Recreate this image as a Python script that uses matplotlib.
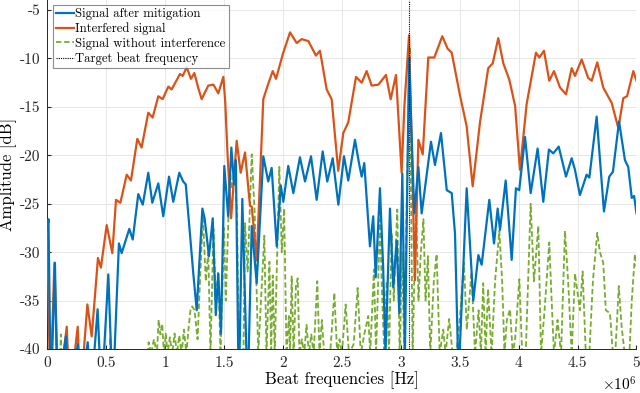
import numpy as np
import matplotlib
matplotlib.use("Agg")
import matplotlib.pyplot as plt

plt.rcParams['font.family'] = 'serif'
plt.rcParams['font.serif'] = ['cmr10', 'DejaVu Serif']
plt.rcParams['mathtext.fontset'] = 'cm'
plt.rcParams['axes.formatter.use_mathtext'] = True

# beat frequency in MHz, amplitude in dB
f_interf = [0.0, 0.025, 0.06, 0.095, 0.165, 0.19, 0.258, 0.28, 0.34, 0.377, 0.43, 0.455,
            0.504, 0.552, 0.583, 0.62, 0.674, 0.71, 0.764, 0.80, 0.857, 0.894, 0.942, 0.979,
            1.027, 1.055, 1.126, 1.149, 1.183, 1.219, 1.248, 1.28, 1.31, 1.366, 1.41, 1.451,
            1.494, 1.51, 1.53, 1.545, 1.56, 1.607, 1.641, 1.678, 1.72, 1.735, 1.777, 1.833,
            1.87, 1.913, 1.941, 2.0, 2.06, 2.116, 2.159, 2.215, 2.28, 2.314, 2.371, 2.413,
            2.469, 2.512, 2.554, 2.62, 2.668, 2.71, 2.753, 2.81, 2.874, 2.914, 2.959, 3.007,
            3.03, 3.07, 3.12, 3.149, 3.186, 3.233, 3.284, 3.352, 3.398, 3.432, 3.502, 3.559,
            3.61, 3.672, 3.742, 3.78, 3.827, 3.87, 3.921, 3.97, 4.011, 4.068, 4.147, 4.175,
            4.215, 4.26, 4.3, 4.351, 4.402, 4.45, 4.478, 4.535, 4.59, 4.62, 4.667, 4.718,
            4.79, 4.846, 4.888, 4.92, 4.973, 5.0]
a_interf = [-27.9, -45, -31.1, -45, -37.7, -45, -37.7, -45, -35.4, -38.7, -30.6, -31.6,
            -27.2, -30.1, -24.6, -24.9, -22.0, -22.6, -18.3, -19.2, -15.6, -16.1, -13.9, -14.2,
            -12.9, -13.2, -11.6, -11.8, -10.9, -12.1, -11.5, -13.0, -14.2, -12.8, -12.7, -13.6,
            -11.9, -14.5, -20.0, -23.2, -26.5, -18.5, -21.8, -19.7, -25.2, -25.3, -30.8, -14.2,
            -12.8, -11.3, -12.1, -9.5, -7.3, -8.4, -8.0, -8.2, -9.7, -9.2, -13.2, -14.2,
            -21.6, -17.7, -16.6, -11.9, -12.5, -11.3, -12.8, -12.7, -11.7, -14.2, -11.7, -21.8,
            -15.0, -7.6, -32.9, -18.4, -19.9, -9.9, -9.9, -7.7, -9.0, -9.4, -13.8, -17.0,
            -23.2, -16.6, -11.0, -10.5, -7.9, -10.5, -12.2, -14.9, -21.5, -14.7, -9.4, -9.9,
            -9.2, -12.3, -11.3, -13.0, -13.7, -11.0, -11.8, -10.1, -12.0, -12.3, -10.4, -13.0,
            -14.6, -17.2, -14.1, -13.9, -11.3, -12.3]

f_mitig = [0.0, 0.01, 0.03, 0.065, 0.085, 0.158, 0.18, 0.26, 0.28, 0.343, 0.37, 0.427,
           0.46, 0.518, 0.555, 0.608, 0.631, 0.696, 0.725, 0.772, 0.81, 0.857, 0.891, 0.942,
           0.984, 1.033, 1.069, 1.12, 1.153, 1.175, 1.21, 1.239, 1.268, 1.316, 1.335, 1.372,
           1.404, 1.43, 1.451, 1.474, 1.502, 1.535, 1.562, 1.585, 1.60, 1.625, 1.655, 1.70,
           1.735, 1.777, 1.833, 1.875, 1.904, 1.947, 1.981, 2.003, 2.045, 2.088, 2.144, 2.187,
           2.238, 2.286, 2.337, 2.376, 2.422, 2.47, 2.518, 2.554, 2.611, 2.645, 2.668, 2.69,
           2.738, 2.766, 2.787, 2.823, 2.85, 2.87, 2.908, 2.936, 2.965, 2.987, 3.013, 3.035,
           3.07, 3.114, 3.149, 3.177, 3.256, 3.29, 3.341, 3.39, 3.432, 3.46, 3.49, 3.559,
           3.615, 3.658, 3.686, 3.751, 3.791, 3.822, 3.842, 3.89, 3.941, 3.977, 4.005, 4.054,
           4.102, 4.161, 4.209, 4.257, 4.294, 4.34, 4.402, 4.45, 4.478, 4.52, 4.577, 4.60,
           4.662, 4.724, 4.769, 4.80, 4.852, 4.902, 4.93, 4.96, 4.98, 5.0]
a_mitig = [-27.7, -26.6, -45, -31.1, -45, -38.7, -45, -39.5, -45, -39.3, -45, -35.9,
           -45, -32.3, -45, -29.1, -30.1, -27.6, -28.7, -24.0, -25.1, -21.8, -24.9, -22.9,
           -26.3, -22.2, -24.8, -21.8, -22.7, -23.0, -28.0, -32.2, -36.0, -25.5, -26.5, -30.4,
           -26.5, -36.5, -32.2, -38.4, -21.1, -26.3, -19.2, -23.0, -20.5, -45, -24.5, -45,
           -27.3, -33.2, -20.1, -22.7, -21.3, -29.4, -23.1, -24.8, -21.1, -23.9, -20.2, -22.7,
           -20.1, -24.6, -19.6, -22.7, -20.3, -25.1, -20.1, -22.6, -18.4, -20.8, -22.2, -20.8,
           -29.4, -26.3, -32.6, -23.4, -31.5, -40.5, -25.5, -33.6, -28.8, -36.3, -21.9, -40.5,
           -10.0, -26.0, -21.2, -26.0, -18.6, -21.0, -17.7, -23.6, -23.9, -28.1, -43, -23.4,
           -35.0, -30.3, -31.3, -24.6, -29.1, -25.5, -27.7, -22.6, -30.8, -23.4, -23.6, -18.1,
           -23.9, -19.3, -24.8, -19.4, -19.8, -19.1, -22.2, -20.3, -21.5, -24.1, -22.0, -22.3,
           -16.0, -25.8, -22.2, -21.7, -16.5, -20.5, -21.2, -24.4, -24.2, -26.0]

f_clean = [0.0, 0.10, 0.115, 0.13, 0.52, 0.535, 0.55, 0.83, 0.86, 0.88, 0.905, 0.93,
           0.945, 0.96, 0.975, 0.99, 1.005, 1.02, 1.04, 1.06, 1.08, 1.10, 1.12, 1.14,
           1.16, 1.18, 1.20, 1.215, 1.23, 1.25, 1.275, 1.32, 1.345, 1.366, 1.385, 1.41,
           1.43, 1.45, 1.47, 1.50, 1.515, 1.55, 1.565, 1.59, 1.61, 1.63, 1.66, 1.678,
           1.70, 1.735, 1.76, 1.79, 1.842, 1.86, 1.885, 1.90, 1.913, 1.93, 1.969, 1.99,
           2.01, 2.03, 2.05, 2.06, 2.074, 2.09, 2.11, 2.125, 2.14, 2.16, 2.18, 2.20,
           2.22, 2.24, 2.26, 2.291, 2.31, 2.33, 2.35, 2.40, 2.436, 2.46, 2.48, 2.50,
           2.532, 2.56, 2.60, 2.634, 2.66, 2.69, 2.724, 2.74, 2.772, 2.79, 2.823, 2.84,
           2.86, 2.88, 2.90, 2.922, 2.94, 2.97, 2.99, 3.01, 3.03, 3.05, 3.075, 3.10,
           3.129, 3.15, 3.17, 3.192, 3.21, 3.23, 3.25, 3.28, 3.304, 3.33, 3.36, 3.38,
           3.41, 3.44, 3.47, 3.50, 3.536, 3.56, 3.60, 3.63, 3.66, 3.68, 3.699, 3.72,
           3.74, 3.77, 3.80, 3.836, 3.86, 3.88, 3.90, 3.927, 3.95, 3.97, 4.006, 4.03,
           4.06, 4.08, 4.102, 4.13, 4.167, 4.19, 4.22, 4.26, 4.28, 4.30, 4.33, 4.36,
           4.393, 4.42, 4.45, 4.478, 4.52, 4.543, 4.57, 4.60, 4.63, 4.667, 4.69, 4.718,
           4.74, 4.775, 4.80, 4.82, 4.85, 4.874, 4.90, 4.94, 4.96, 4.987, 5.0]
a_clean = [-45, -45, -38.5, -45, -45, -38.8, -45, -45, -39.3, -40.5, -39.0, -40.5,
           -37.0, -38.5, -37.4, -40.5, -38.4, -40.5, -38.8, -40.5, -38.4, -40.5, -38.6, -40.5,
           -38.0, -40.5, -37.7, -36.0, -35.6, -36.0, -39.0, -26.1, -33.0, -30.0, -40.5, -27.6,
           -35.0, -32.0, -40.5, -27.5, -35.0, -21.5, -23.5, -21.3, -26.0, -45, -45, -27.0,
           -32.0, -19.9, -26.0, -40.5, -28.3, -40.5, -31.0, -40.5, -32.4, -40.5, -21.2, -30.0,
           -25.5, -40.5, -36.6, -40.5, -32.5, -40.5, -33.5, -32.7, -40.5, -39.0, -40.5, -37.5,
           -40.5, -38.5, -40.5, -33.0, -40.5, -37.0, -40.5, -40.5, -34.2, -40.5, -39.0, -40.5,
           -35.4, -40.5, -39.5, -33.7, -40.5, -38.5, -36.6, -40.5, -31.8, -40.5, -26.6, -34.0,
           -40.5, -33.0, -40.5, -28.0, -35.0, -25.6, -40.5, -30.0, -40.5, -25.0, -8.8, -40.5,
           -25.0, -35.0, -30.0, -26.6, -35.0, -30.4, -40.5, -33.0, -30.2, -40.5, -38.0, -40.5,
           -36.9, -40.5, -40.5, -37.0, -31.1, -38.0, -32.1, -40.5, -36.0, -40.5, -33.2, -40.5,
           -33.8, -40.5, -33.0, -27.8, -33.0, -40.5, -37.0, -35.9, -40.5, -39.0, -32.8, -40.5,
           -40.5, -33.0, -25.0, -33.0, -27.3, -40.5, -36.0, -29.0, -35.0, -40.5, -37.0, -40.5,
           -27.8, -33.0, -40.5, -32.2, -36.0, -32.0, -40.5, -40.5, -33.0, -28.0, -30.0, -31.1,
           -36.0, -36.3, -40.5, -40.5, -33.5, -37.7, -40.5, -40.5, -35.0, -30.2, -31.5]

target_freq = 3.072  # MHz

xticks = [0, 0.5, 1, 1.5, 2, 2.5, 3, 3.5, 4, 4.5, 5]
xticklabels = ['0', '0.5', '1', '1.5', '2', '2.5', '3', '3.5', '4', '4.5', '5']
yticks = [-40, -35, -30, -25, -20, -15, -10, -5]
yticklabels = ['-40', '-35', '-30', '-25', '-20', '-15', '-10', '-5']

blue = '#0072BD'
orange = '#D95319'
green = '#77AC30'

fig = plt.figure(figsize=(6.4, 3.93), dpi=100)
ax = fig.add_axes([0.0739, 0.112, 0.9206, 0.887])

ax.plot(np.array(f_mitig) * 1e6, a_mitig, color=blue, lw=1.6, label='Signal after mitigation',
        zorder=4, solid_joinstyle='round')
ax.plot(np.array(f_interf) * 1e6, a_interf, color=orange, lw=1.6, label='Interfered signal',
        zorder=3, solid_joinstyle='round')
ax.plot(np.array(f_clean) * 1e6, a_clean, color=green, lw=1.3, ls=(0, (3, 1.5)),
        label='Signal without interference', zorder=2)
ax.axvline(target_freq * 1e6, color='black', lw=0.8, ls=(0, (1, 1)),
           label='Target beat frequency', zorder=5)

ax.set_xlim(0, 5e6)
ax.set_ylim(-40, -4)
ax.set_xticks(np.array(xticks) * 1e6)
ax.set_xticklabels(xticklabels)
ax.set_yticks(yticks)
ax.set_yticklabels(yticklabels)
ax.tick_params(direction='in', length=3, labelsize=11, colors='#262626', pad=5)
ax.grid(True, color='#e6e6e6', lw=0.7)
ax.set_axisbelow(True)
for side in ['top', 'right']:
    ax.spines[side].set_visible(False)
for side in ['left', 'bottom']:
    ax.spines[side].set_color('#262626')
    ax.spines[side].set_linewidth(0.7)

ax.set_xlabel('Beat frequencies [Hz]', fontsize=12, labelpad=1)
ax.set_ylabel('Amplitude [dB]', fontsize=12, labelpad=2)
ax.text(1.0, -0.075, r'$\times 10^{6}$', transform=ax.transAxes, ha='right', va='top', fontsize=11)

leg = ax.legend(loc='upper left', bbox_to_anchor=(0.005, 0.995), fontsize=9.2, frameon=True,
                fancybox=False, edgecolor='#707070', handlelength=1.4, handletextpad=0.1,
                borderpad=0.25, labelspacing=0.2, borderaxespad=0.2)
leg.get_frame().set_linewidth(0.8)

fig.savefig('out.png', dpi=100)
